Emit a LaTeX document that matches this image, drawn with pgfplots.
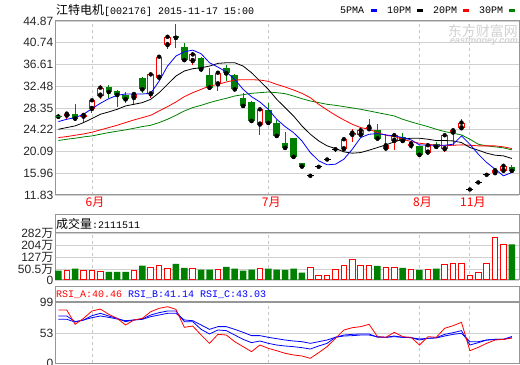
\documentclass[border=0pt]{standalone}
\usepackage{fontspec}
\setmainfont{Liberation Sans}
\newfontfamily\cjk{Noto Sans CJK SC}
\newfontfamily\mono{Liberation Mono}
\usepackage{pgfplots}
\usepackage{pgfplotstable}
\pgfplotsset{compat=1.18}

\definecolor{cred}{RGB}{255,0,0}
\definecolor{cgreen}{RGB}{0,128,0}
\definecolor{cblue}{RGB}{0,0,255}
\definecolor{gridc}{RGB}{208,208,208}
\definecolor{framec}{RGB}{150,150,150}
\definecolor{dashc}{RGB}{200,200,200}
\definecolor{wmark}{RGB}{210,210,210}

% candles: i open high low close
\pgfplotstableread{
i o h l c
1 26.90 27.66 26.02 27.28
3 26.71 27.16 25.58 27.03
4 28.17 29.93 27.47 29.81
5 30.69 32.78 30.12 32.21
9 30.25 31.14 28.92 31.01
11 30.95 35.18 30.19 34.73
12 34.10 38.08 33.60 38.08
13 40.29 42.00 39.47 41.87
16 37.26 39.03 36.50 38.52
19 32.84 35.37 31.58 35.05
24 25.20 28.42 23.24 28.10
34 20.52 22.74 20.40 22.42
35 23.24 24.31 21.91 23.68
36 23.24 24.82 23.05 24.12
37 24.31 26.21 24.00 24.82
39 20.65 23.37 20.21 21.28
40 22.10 23.37 20.34 23.18
42 21.16 22.10 20.52 21.60
44 19.89 21.28 19.45 21.28
46 20.52 23.18 20.08 23.18
47 23.68 24.12 21.16 24.12
48 24.50 26.34 24.19 25.58
52 15.98 16.86 15.60 16.55
53 16.42 17.68 16.10 17.37
}\upc

\pgfplotstableread{
i o h l c
0 26.71 27.22 26.21 26.71
2 27.28 29.05 26.21 26.34
6 32.40 32.65 30.25 31.39
7 31.51 31.77 28.48 30.82
8 30.88 31.32 29.24 30.00
10 34.10 34.29 31.14 31.89
14 42.00 44.21 39.72 41.68
15 39.98 40.73 37.39 37.45
17 37.89 38.08 35.18 35.68
18 34.54 35.87 32.08 32.21
20 35.99 36.44 33.47 34.92
21 34.54 34.73 31.58 31.89
22 30.19 31.14 28.74 28.74
23 29.43 29.68 25.83 25.89
25 27.91 29.37 25.26 25.51
26 25.45 26.08 22.92 23.05
27 21.66 23.87 20.52 20.78
28 22.61 22.74 18.76 19.07
29 18.00 18.00 17.24 17.24
38 24.12 25.39 22.42 22.55
41 22.86 23.68 21.91 22.10
43 21.16 21.16 19.45 19.45
45 21.60 21.91 20.84 20.97
54 17.18 17.56 16.10 16.42
}\downc

\pgfplotstableread{
i o h l c
30 15.47 15.47 15.47 15.47
31 17.18 17.18 17.18 17.18
32 18.57 18.57 18.57 18.57
33 20.52 20.52 19.90 20.52
49 12.88 12.88 12.88 12.88
50 14.21 14.21 14.21 14.21
51 15.66 15.66 15.66 15.66
}\flatc

% moving averages: 5, 10, 20, 30
\pgfplotstableread{
i a b c d
0 25.77 24.31 22.74 22.17
1 26.21 24.63 22.92 22.42
2 26.52 24.95 23.18 22.61
3 27.16 25.58 23.43 22.86
4 28.23 26.34 23.75 23.05
5 29.24 27.16 24.19 23.37
6 30.12 27.60 24.63 23.68
7 30.76 28.10 25.07 23.94
8 31.01 28.74 25.58 24.19
9 31.01 29.05 26.08 24.50
10 31.01 29.37 26.52 24.82
11 31.14 30.00 26.97 25.07
12 33.47 31.26 27.79 25.58
13 36.31 32.84 28.61 26.21
14 38.21 34.42 29.49 26.97
15 39.03 35.37 30.50 27.79
16 39.34 35.81 31.26 28.42
17 38.65 36.00 31.89 28.86
18 36.94 36.31 32.52 29.37
19 36.12 36.82 32.84 29.81
20 35.18 36.94 33.28 30.19
21 33.79 36.94 33.66 30.63
22 31.89 36.31 33.72 30.88
23 30.50 35.05 33.72 31.14
24 29.49 33.47 33.66 31.26
25 28.10 31.89 33.41 31.39
26 26.21 30.00 32.84 31.26
27 24.82 28.42 32.34 31.07
28 23.68 26.84 31.77 30.63
29 22.10 24.95 31.14 30.12
30 19.89 23.37 30.31 29.68
31 18.32 22.10 29.05 29.37
32 17.56 21.16 27.98 29.05
33 17.68 20.65 26.97 28.86
34 18.63 20.02 26.08 28.61
35 20.52 19.77 25.26 28.36
36 22.74 19.89 24.63 28.10
37 23.37 20.34 24.31 27.79
38 23.49 20.84 23.68 27.47
39 23.24 21.35 23.18 27.16
40 23.05 21.91 22.92 26.84
41 22.74 22.42 22.42 26.21
42 22.29 22.61 21.98 25.71
43 21.35 22.61 21.66 25.26
44 21.28 22.42 21.47 24.82
45 21.28 22.17 21.28 24.31
46 21.28 22.17 21.16 23.87
47 21.47 22.10 21.28 23.56
48 23.05 21.79 21.35 23.24
49 21.47 20.84 21.28 22.42
50 19.58 20.34 21.16 21.47
51 18.00 19.77 21.16 21.16
52 16.74 19.39 21.16 20.97
53 15.47 19.26 20.97 20.78
54 16.10 18.76 20.65 20.40
}\mac

% volume (10k lots)
\pgfplotstableread{
i v
0 56
2 68
6 48
7 48
8 48
10 86
14 96
15 72
17 62
18 62
20 78
21 68
22 56
23 62
25 68
26 62
27 60
28 68
29 44
38 84
41 72
43 60
45 68
54 214
}\vdown

\pgfplotstableread{
i v
1 56
3 56
4 56
5 48
9 56
11 76
12 84
13 68
16 68
19 60
24 68
30 72
31 28
32 28
33 64
34 88
35 120
36 84
37 88
39 76
40 72
42 60
44 60
46 94
47 100
48 96
49 28
50 46
51 100
52 256
53 214
}\vup

% RSI
\pgfplotstableread{
i a b c
0 86.0 76.3 70.9
1 86.0 76.3 70.9
2 62.8 67.1 66.5
3 72.5 69.8 69.8
4 84.4 76.8 73.6
5 87.6 80.6 76.3
6 79.0 76.3 74.1
7 72.5 72.5 71.4
8 61.7 67.1 68.7
9 69.8 69.8 69.8
10 72.5 71.4 70.9
11 83.3 77.9 75.2
12 88.7 81.7 77.9
13 91.4 84.4 80.6
14 87.1 84.4 80.6
15 57.9 67.1 69.8
16 60.0 67.1 68.7
17 45.4 54.6 61.7
18 31.9 47.1 54.6
19 46.5 53.6 59.0
20 45.4 52.5 59.0
21 34.6 45.4 54.6
22 26.5 38.4 49.8
23 18.4 33.0 44.4
24 29.2 35.7 44.4
25 23.8 31.9 41.7
26 20.0 29.2 39.5
27 15.7 27.6 37.3
28 13.0 26.5 35.7
29 11.4 24.9 34.6
30 7.6 22.7 31.9
31 16.8 27.6 34.6
32 26.5 31.9 37.3
33 40.0 41.7 41.7
34 53.6 45.4 43.8
35 57.3 46.5 44.4
36 59.0 47.1 45.4
37 62.8 47.1 45.4
38 42.7 41.7 42.7
39 41.7 41.7 41.7
40 49.8 43.8 42.7
41 42.7 41.7 41.7
42 41.7 41.1 41.1
43 29.2 37.3 39.0
44 42.7 40.0 40.0
45 41.7 41.1 40.6
46 56.3 46.5 43.8
47 60.6 49.2 46.5
48 66.0 52.5 48.2
49 20.0 29.2 34.6
50 25.4 33.0 34.6
51 31.9 37.3 37.3
52 37.3 38.4 38.4
53 38.4 38.4 38.4
54 40.46 41.14 43.03
}\rsic

\pgfplotsset{
  panel/.style={
    scale only axis, width=464bp, xmin=-0.4, xmax=54.85,
    anchor=south west,
    axis line style={framec, line width=1bp},
    xtick={4,25,43,49},
    xmajorgrids, ymajorgrids,
    x grid style={dashc, dash pattern=on 3bp off 3bp, line width=0.8bp},
    y grid style={gridc, line width=0.8bp},
    major tick length=0pt,
    tick label style={font=\fontsize{12bp}{12bp}\selectfont, text=black!85},
    yticklabel style={inner sep=1.5bp},
    /pgf/number format/assume math mode=true,
  },
  wick/.style={only marks, mark=none, forget plot,
    error bars/.cd, y dir=both, y explicit, error mark=none,
    error bar style={#1, line width=1bp}},
  body/.style 2 args={only marks, mark=none, forget plot,
    error bars/.cd, y dir=plus, y explicit, error mark=none,
    error bar style={#1, line width=#2}},
}

\begin{document}
\begin{tikzpicture}
\path[use as bounding box] (0,0) rectangle (520bp,365bp);

% title and legend
\node[anchor=west, inner sep=0] at (56bp,355bp)
  {{\cjk\fontsize{12bp}{12bp}\selectfont 江特电机}{\mono\fontsize{10bp}{12bp}\selectfont[002176] 2015-11-17 15:00}};
\node[anchor=west, inner sep=0] at (340bp,355bp) {\mono\fontsize{10bp}{12bp}\selectfont 5PMA};
\fill[cblue] (371bp,353bp) rectangle (377bp,356bp);
\node[anchor=west, inner sep=0] at (387bp,355bp) {\mono\fontsize{10bp}{12bp}\selectfont 10PM};
\fill[black] (417bp,353bp) rectangle (423bp,356bp);
\node[anchor=west, inner sep=0] at (433bp,355bp) {\mono\fontsize{10bp}{12bp}\selectfont 20PM};
\fill[cred] (463bp,353bp) rectangle (469bp,356bp);
\node[anchor=west, inner sep=0] at (479bp,355bp) {\mono\fontsize{10bp}{12bp}\selectfont 30PM};
\fill[cgreen] (509bp,353bp) rectangle (515bp,356bp);

% watermark
\node[anchor=east, inner sep=0, text=wmark] at (518bp,334bp) {\cjk\fontsize{14bp}{14bp}\selectfont 东方财富网};
\node[anchor=east, inner sep=0, text=wmark] at (518bp,323bp) {\fontsize{9bp}{9bp}\selectfont\bfseries\itshape eastmoney.com};

% ---------- price panel ----------
\begin{axis}[panel, at={(55bp,170bp)}, height=174bp,
  ymin=11.83, ymax=44.87,
  ytick={11.83,15.96,20.09,24.22,28.35,32.48,36.61,40.74,44.87},
  yticklabels={11.83,15.96,20.09,24.22,28.35,32.48,36.61,40.74,44.87},
  xticklabels={6月,7月,8月,11月},
  xticklabel style={text=cred, font=\cjk\fontsize{12bp}{12bp}\selectfont, xshift=3bp, inner sep=2bp}]
% wicks
\addplot[wick=cred] table[x=i, y=c, y error plus expr=\thisrow{h}-\thisrow{c}, y error minus expr=\thisrow{c}-\thisrow{l}] {\upc};
\addplot[wick=cgreen] table[x=i, y=c, y error plus expr=\thisrow{h}-\thisrow{c}, y error minus expr=\thisrow{c}-\thisrow{l}] {\downc};
\addplot[wick=black] table[x=i, y=c, y error plus expr=\thisrow{h}-\thisrow{c}, y error minus expr=\thisrow{c}-\thisrow{l}] {\flatc};
% bodies
\addplot[body={cgreen}{6.5bp}] table[x=i, y=c, y error plus expr=\thisrow{o}-\thisrow{c}] {\downc};
\addplot[body={cred}{6.5bp}] table[x=i, y=o, y error plus expr=\thisrow{c}-\thisrow{o}] {\upc};
\addplot[body={white}{4.5bp}] table[x=i, y expr=\thisrow{o}+0.19, y error plus expr={max(\thisrow{c}-\thisrow{o}-0.38,0)}] {\upc};
\addplot[only marks, mark=-, mark size=3.5bp, mark options={black, line width=1.2bp}, forget plot] table[x=i, y=c] {\flatc};
\addplot[only marks, mark=-, mark size=3.5bp, mark options={cgreen, line width=1.2bp}, forget plot] coordinates {(0,26.71)};
% moving averages
\addplot[cgreen, line width=0.8bp, mark=none] table[x=i, y=d] {\mac};
\addplot[cred, line width=0.8bp, mark=none] table[x=i, y=c] {\mac};
\addplot[black, line width=0.8bp, mark=none] table[x=i, y=b] {\mac};
\addplot[cblue, line width=0.8bp, mark=none] table[x=i, y=a] {\mac};
\end{axis}

% ---------- volume panel ----------
\draw[framec, line width=1bp] (55bp,132bp) rectangle (519bp,150bp);
\node[anchor=west, inner sep=0] at (56bp,141bp)
  {{\cjk\fontsize{12bp}{12bp}\selectfont 成交量}{\mono\fontsize{10bp}{12bp}\selectfont:2111511}};
\begin{axis}[panel, at={(55bp,85bp)}, height=47bp,
  ymin=0, ymax=282,
  ytick={0,66,138,210,282},
  yticklabels={0,{50.5{\cjk 万}},{127{\cjk 万}},{204{\cjk 万}},{282{\cjk 万}}},
  xticklabels={}]
\addplot[ybar, bar width=6.5bp, bar shift=0pt, fill=cgreen, draw=none] table[x=i, y=v] {\vdown};
\addplot[ybar, bar width=5.5bp, bar shift=0pt, fill=white, draw=cred, line width=1bp] table[x=i, y=v] {\vup};
\end{axis}

% ---------- RSI panel ----------
\draw[framec, line width=1bp] (55bp,63bp) rectangle (519bp,78bp);
\node[anchor=west, inner sep=0, text=cred] at (56bp,70.5bp) {\mono\fontsize{10bp}{12bp}\selectfont RSI\_A:40.46};
\node[anchor=west, inner sep=0, text=cblue] at (128bp,70.5bp) {\mono\fontsize{10bp}{12bp}\selectfont RSI\_B:41.14};
\node[anchor=west, inner sep=0, text=cblue] at (200bp,70.5bp) {\mono\fontsize{10bp}{12bp}\selectfont RSI\_C:43.03};
\begin{axis}[panel, at={(55bp,2bp)}, height=61bp,
  ymin=0, ymax=99,
  ytick={0,48.7,99}, yticklabels={0,53,99},
  xticklabels={}]
\addplot[cblue, line width=0.8bp, mark=none] table[x=i, y=c] {\rsic};
\addplot[cblue, line width=0.8bp, mark=none] table[x=i, y=b] {\rsic};
\addplot[cred, line width=0.8bp, mark=none] table[x=i, y=a] {\rsic};
\end{axis}
\end{tikzpicture}
\end{document}
